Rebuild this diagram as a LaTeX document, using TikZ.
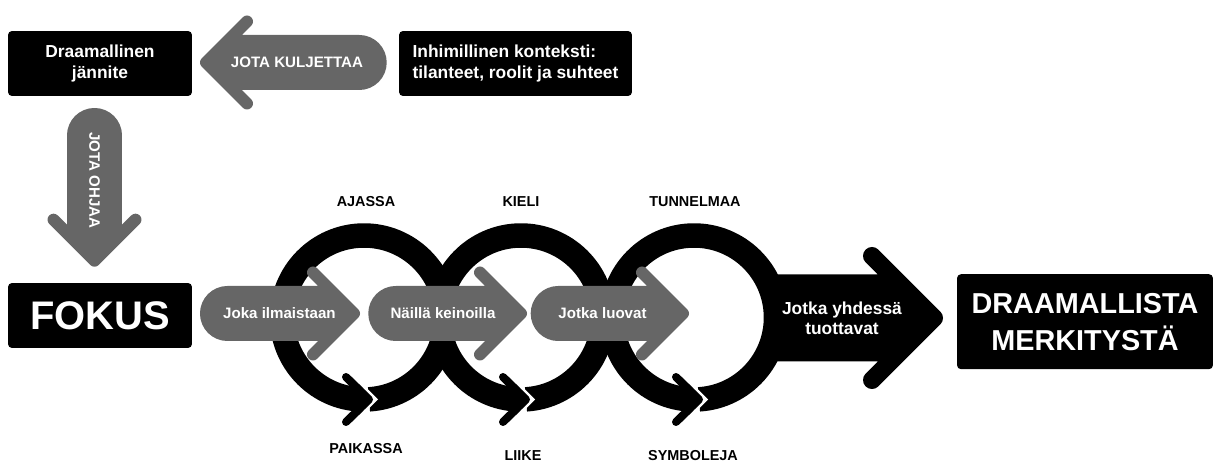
\documentclass[tikz,border=0pt]{standalone}
\usepackage{fontspec}
\setmainfont{Liberation Sans}

\definecolor{arrgray}{RGB}{102,102,102}

\tikzset{
  box/.style={fill=black, text=white, rounded corners=0.08cm, inner sep=0pt,
    minimum width=3.68cm, minimum height=1.3cm, align=center},
  boxtext/.style={font=\fontsize{9.9}{11.6}\selectfont\bfseries},
  arrtext/.style={text=white, font=\fontsize{8.6}{10}\selectfont\bfseries},
  ringlabel/.style={font=\fontsize{8.2}{10}\selectfont\bfseries},
  ring/.style={line width=0.49cm},
  ringhead/.style={line width=0.16cm, line join=round},
  pics/fatarrow/.style={code={
    \filldraw[arrgray, line width=0.24cm, line join=round]
      (0,-21.5) -- (#1-21.5,-21.5) -- (#1-41,-41) -- (#1,0)
      -- (#1-41,41) -- (#1-21.5,21.5) -- (0,21.5)
      arc[start angle=90, end angle=270, radius=21.5] -- cycle;
  }},
}

\begin{document}
\begin{tikzpicture}[x=0.02cm, y=-0.02cm]
  \useasboundingbox (0,0) rectangle (1215,462);

  % kehat
  \foreach \cx in {364,521,694} {
    \draw[ring] (\cx,317.5) ++(86.5:82) arc[start angle=86.5, end angle=-267.2, radius=82];
    \fill[white] (\cx+14,399.5) -- (\cx-2,383.5) -- (\cx-2,415.5) -- cycle;
    \filldraw[ringhead] (\cx-18,377) -- (\cx+5,399.5) -- (\cx-18,422)
      -- (\cx-3.25,407.75) -- (\cx-3.25,391.25) -- cycle;
  }

  % iso musta nuoli
  \filldraw[line width=0.36cm, line join=round]
    (777,283.5) -- (899.5,283.5) -- (872,256) -- (934,318) -- (872,380)
    -- (899.5,352.5) -- (777,352.5) -- cycle;
  \node[text=white, boxtext, align=center] (yhdessa) at (842,318) {Jotka yhdessä\\tuottavat};

  % harmaat nuolet
  \pic[rotate=180] at (359.2,62.5) {fatarrow=153.2};
  \pic[rotate=-90] at (94.5,135.5) {fatarrow=125.2};
  \pic at (227.5,313.5) {fatarrow=126.5};
  \pic at (395.8,313.5) {fatarrow=125.2};
  \pic at (558.2,313.5) {fatarrow=124.8};

  \node[arrtext] (kuljettaa) at (297,62.5) {JOTA KULJETTAA};
  \node[arrtext, rotate=-90] (ohjaa) at (94.5,180.5) {JOTA OHJAA};
  \node[arrtext] (ilmaistaan) at (279.4,313.5) {Joka ilmaistaan};
  \node[arrtext] (keinoilla) at (443,313.5) {Näillä keinoilla};
  \node[arrtext] (luovat) at (602.5,313.5) {Jotka luovat};

  % laatikot
  \node[box, boxtext] (jannite) at (100,63.5) {Draamallinen\\jännite};
  \node[box, boxtext, align=left, minimum width=4.66cm]
    (konteksti) at (515.5,63.5) {Inhimillinen konteksti:\\tilanteet, roolit ja suhteet};
  \node[box, font=\fontsize{22.7}{26}\selectfont\bfseries] (fokus) at (100,315.5) {FOKUS};
  \node[box, minimum width=5.12cm, minimum height=1.9cm,
    font=\fontsize{16.4}{21}\selectfont\bfseries] (merkitys) at (1085,321.7) {DRAAMALLISTA\\MERKITYSTÄ};

  % kehien tekstit
  \node[ringlabel] (ajassa) at (366,202) {AJASSA};
  \node[ringlabel] (kieli) at (521,202) {KIELI};
  \node[ringlabel] (tunnelmaa) at (695,202) {TUNNELMAA};
  \node[ringlabel] (paikassa) at (366,449) {PAIKASSA};
  \node[ringlabel] (liike) at (523,456) {LIIKE};
  \node[ringlabel] (symboleja) at (693,456) {SYMBOLEJA};

\end{tikzpicture}
\end{document}
